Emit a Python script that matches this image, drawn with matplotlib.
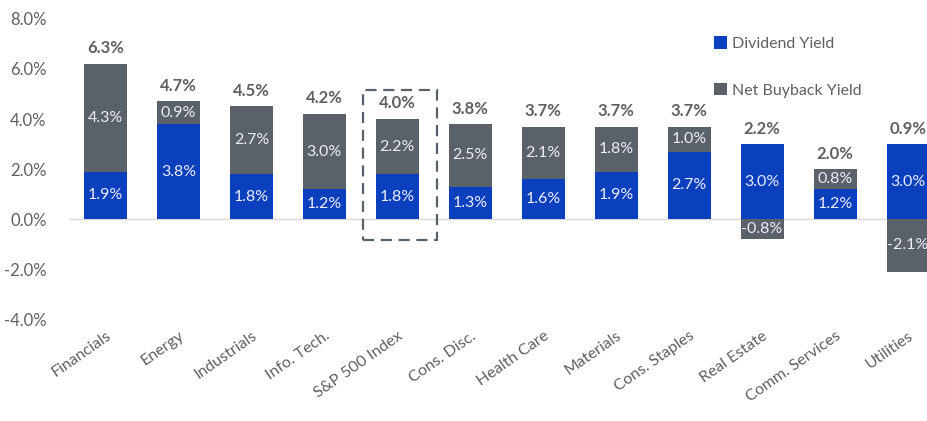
import numpy as np
import matplotlib.pyplot as plt
from matplotlib.patches import Rectangle

sectors = ["Financials", "Energy", "Industrials", "Info. Tech.", "S&P 500 Index",
           "Cons. Disc.", "Health Care", "Materials", "Cons. Staples", "Real Estate",
           "Comm. Services", "Utilities"]
dividend = [1.9, 3.8, 1.8, 1.2, 1.8, 1.3, 1.6, 1.9, 2.7, 3.0, 1.2, 3.0]
buyback = [4.3, 0.9, 2.7, 3.0, 2.2, 2.5, 2.1, 1.8, 1.0, -0.8, 0.8, -2.1]
total = [6.3, 4.7, 4.5, 4.2, 4.0, 3.8, 3.7, 3.7, 3.7, 2.2, 2.0, 0.9]

blue = "#0a3fbe"
grey = "#5b6168"
txt = "#606060"

plt.rcParams['font.family'] = ['Lato', 'DejaVu Sans']

fig = plt.figure(figsize=(9.27, 4.21), dpi=100)
ax = fig.add_axes([0.0744, 0.242, 0.9256, 0.713])

x = np.arange(len(sectors))
w = 0.59
div = np.array(dividend)
bb = np.array(buyback)
bb_bottom = np.where(bb >= 0, div, 0)

ax.bar(x, div, w, color=blue, label="Dividend Yield", zorder=3)
ax.bar(x, bb, w, bottom=bb_bottom, color=grey, label="Net Buyback Yield", zorder=3)

for i in range(len(x)):
    ax.text(x[i], div[i] / 2, f"{dividend[i]:.1f}%", ha='center', va='center',
            color='#ececfa', fontsize=11.5, zorder=4)
    ax.text(x[i], bb_bottom[i] + bb[i] / 2, f"{buyback[i]:.1f}%", ha='center', va='center',
            color='#ececfa', fontsize=11.5, zorder=4)
    top = div[i] + max(bb[i], 0)
    ax.text(x[i], top + 0.3, f"{total[i]:.1f}%", ha='center', va='bottom',
            color=txt, fontsize=12, fontweight='bold', zorder=4)

# dashed box round the index
ax.add_patch(Rectangle((3.53, -0.84), 1.02, 6.0, fill=False, edgecolor=grey,
                       linestyle=(0, (5, 3)), linewidth=1.6, zorder=5, clip_on=False))

ax.axhline(0, color='#d9d9d9', linewidth=1, zorder=2)
ax.set_ylim(-4, 8)
ax.set_xlim(-0.5, 11.26)
ax.set_yticks(np.arange(-4, 8.1, 2))
ax.set_yticklabels([f"{v:.1f}%" for v in np.arange(-4, 8.1, 2)])
ax.set_xticks(x)
ax.set_xticklabels(sectors, rotation=35, ha='right', rotation_mode='anchor')
ax.tick_params(axis='y', length=0, pad=16, labelsize=12, labelcolor=txt)
ax.tick_params(axis='x', length=0, pad=7, labelsize=11.5, labelcolor=txt)
for s in ax.spines.values():
    s.set_visible(False)

ax.legend(loc='upper left', bbox_to_anchor=(0.735, 0.99), frameon=False, fontsize=11.5,
          handlelength=0.8, handleheight=0.8, handletextpad=0.3, labelspacing=2.0,
          labelcolor=txt)

fig.savefig("out.png", dpi=100)
